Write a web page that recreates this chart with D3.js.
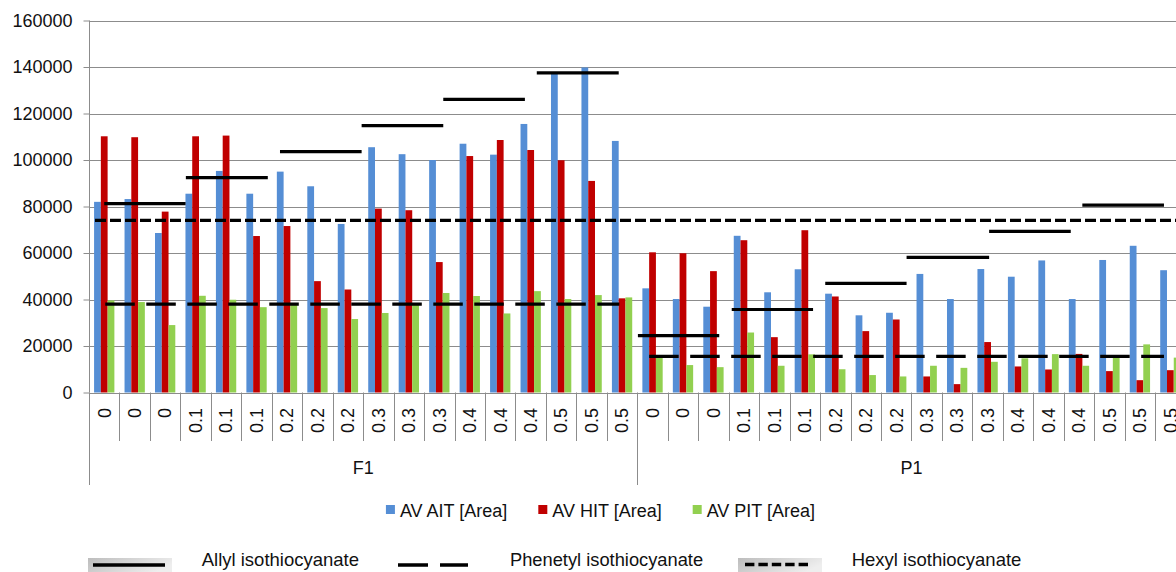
<!DOCTYPE html>
<html>
<head>
<meta charset="utf-8">
<script src="https://cdn.jsdelivr.net/npm/d3@7"></script>
<style>
  html, body { margin: 0; padding: 0; background: #fff; }
  svg { display: block; font-family: "Liberation Sans", Arial, sans-serif; }
</style>
</head>
<body>
<svg id="chart" width="1176" height="572"></svg>
<script>
// ---------------- data ----------------
const groups = ["F1", "P1"];
const concLabels = ["0","0","0","0.1","0.1","0.1","0.2","0.2","0.2","0.3","0.3","0.3","0.4","0.4","0.4","0.5","0.5","0.5"];
const seriesNames = ["AV AIT [Area]", "AV HIT [Area]", "AV PIT [Area]"];

const aitF1 = [82000, 83200, 68600, 85500, 95300, 85500, 95000, 88700, 72500, 105500, 102500, 100000, 107000, 102300, 115500, 137500, 139800, 108200];
const aitP1 = [44800, 40200, 36900, 67400, 43100, 53000, 42500, 33200, 34300, 51000, 40200, 53100, 49800, 56800, 40200, 57000, 63100, 52600];
const hitF1 = [110200, 109800, 77800, 110200, 110500, 67300, 71600, 47900, 44300, 79100, 78400, 56100, 101700, 108600, 104300, 99900, 91000, 40500];
const hitP1 = [60300, 59900, 52200, 65500, 23800, 69800, 41300, 26400, 31400, 6900, 3600, 21700, 11200, 9900, 16600, 9200, 5300, 9600];
const pitF1 = [39600, 38900, 29000, 41600, 39900, 36700, 37800, 36300, 31600, 34200, 38000, 42800, 41500, 34000, 43600, 40200, 41900, 40900];
const pitP1 = [15000, 11800, 10900, 25800, 11500, 16400, 10000, 7500, 6900, 11500, 10600, 13200, 14700, 16500, 11500, 15000, 20700, 15000];

const yTicks = [0, 20000, 40000, 60000, 80000, 100000, 120000, 140000, 160000];

// reference lines (x in category units, value on y scale)
const allylFrom   = [0.50, 3.18, 6.27, 8.95, 11.63, 14.70, 18.02, 21.10, 24.17, 26.84, 29.55, 32.61];
const allylTo     = [3.17, 5.87, 8.95, 11.63, 14.31, 17.39, 20.69, 23.77, 26.84, 29.55, 32.23, 35.29];
const allylValues = [81200, 92400, 103600, 114800, 126100, 137500, 24500, 35700, 46900, 58100, 69300, 80600];
const phenetylFrom   = [0.535, 18.39];
const phenetylTo     = [17.41, 35.29];
const phenetylValues = [38000, 15500];
const hexylFrom   = [0.197];
const hexylTo     = [36];
const hexylValues = [74000];

const lineLegend = ["Allyl isothiocyanate", "Phenetyl isothiocyanate", "Hexyl isothiocyanate"];

// ---------------- build ----------------
const categories = [];
groups.forEach(g => concLabels.forEach((c, i) => categories.push({group: g, label: c, key: g + "-" + i})));
const seriesValues = [aitF1.concat(aitP1), hitF1.concat(hitP1), pitF1.concat(pitP1)];
const colors = ["#558ED5", "#C00000", "#92D050"];

const svg = d3.select("#chart");
const plotLeft = 89, plotRight = 1185.6, plotTop = 20.5, plotBottom = 392.5;

const x0 = d3.scaleBand().domain(categories.map(d => d.key)).range([plotLeft, plotRight]).padding(0);
const x1 = d3.scaleBand().domain(seriesNames).range([0, x0.bandwidth()]).paddingInner(0).paddingOuter(0.75);
const xc = d3.scaleLinear().domain([0, categories.length]).range([plotLeft, plotRight]);
const y = d3.scaleLinear().domain([0, 160000]).range([plotBottom, plotTop]);

// gridlines
svg.append("g").selectAll("line").data(yTicks).join("line")
  .attr("x1", plotLeft).attr("x2", plotRight)
  .attr("y1", d => Math.round(y(d)) + 0.5).attr("y2", d => Math.round(y(d)) + 0.5)
  .attr("stroke", "#8c8c8c").attr("stroke-width", 1);

// y axis
const yAxis = svg.append("g").attr("transform", `translate(${plotLeft + 0.5},0)`)
  .call(d3.axisLeft(y).tickValues(yTicks).tickFormat(d3.format("d")).tickSize(6).tickPadding(11));
yAxis.select(".domain").remove();
yAxis.selectAll(".tick line").attr("stroke", "#8c8c8c");
yAxis.selectAll(".tick text").attr("font-size", 18).attr("fill", "#111")
  .attr("font-family", '"Liberation Sans", Arial, sans-serif');
svg.append("line").attr("x1", plotLeft + 0.5).attr("x2", plotLeft + 0.5).attr("y1", plotTop).attr("y2", plotBottom)
  .attr("stroke", "#8c8c8c");

// bars
const barG = svg.append("g");
seriesNames.forEach((s, si) => {
  barG.append("g").selectAll("rect").data(seriesValues[si]).join("rect")
    .attr("x", (d, i) => x0(categories[i].key) + x1(s))
    .attr("width", x1.bandwidth())
    .attr("y", d => y(d))
    .attr("height", d => y(0) - y(d))
    .attr("fill", colors[si]);
});

// x axis: category separators & labels
const xAxisG = svg.append("g");
d3.range(categories.length + 1).forEach(i => {
  const isGroup = i % concLabels.length === 0;
  xAxisG.append("line")
    .attr("x1", Math.round(xc(i)) + 0.5).attr("x2", Math.round(xc(i)) + 0.5)
    .attr("y1", plotBottom).attr("y2", isGroup ? 485 : 441)
    .attr("stroke", "#8c8c8c");
});
xAxisG.append("line").attr("x1", plotLeft).attr("x2", plotRight)
  .attr("y1", Math.round(plotBottom) + 0.5).attr("y2", Math.round(plotBottom) + 0.5).attr("stroke", "#8c8c8c");
xAxisG.selectAll("text.cat").data(categories).join("text")
  .attr("class", "cat")
  .attr("transform", d => `translate(${x0(d.key) + x0.bandwidth() / 2},408) rotate(-90)`)
  .attr("text-anchor", "end").attr("dy", "0.35em")
  .attr("font-size", 18).attr("fill", "#111")
  .text(d => d.label);
xAxisG.selectAll("text.grp").data(groups).join("text")
  .attr("class", "grp")
  .attr("x", (g, gi) => (xc(gi * concLabels.length) + xc((gi + 1) * concLabels.length)) / 2)
  .attr("y", 474).attr("text-anchor", "middle")
  .attr("font-size", 18).attr("fill", "#111")
  .text(g => g);

// reference lines
const lineG = svg.append("g");
function drawSegs(from, to, vals, dash) {
  lineG.append("g").selectAll("line").data(vals).join("line")
    .attr("x1", (d, i) => xc(from[i])).attr("x2", (d, i) => xc(to[i]))
    .attr("y1", d => y(d)).attr("y2", d => y(d))
    .attr("stroke", "#000").attr("stroke-width", 3.2)
    .attr("stroke-dasharray", dash);
}
drawSegs(hexylFrom, hexylTo, hexylValues, "11,4");
drawSegs(phenetylFrom, phenetylTo, phenetylValues, "29.5,11.5");
drawSegs(allylFrom, allylTo, allylValues, null);

// series legend
const legG = svg.append("g");
let lx = 0;
seriesNames.forEach((s, i) => {
  const g = legG.append("g");
  g.append("rect").attr("x", 0).attr("y", -12).attr("width", 9).attr("height", 9).attr("fill", colors[i]);
  const t = g.append("text").attr("x", 14).attr("y", 0).attr("font-size", 18).attr("fill", "#111").text(s);
  const w = 14 + t.node().getComputedTextLength();
  g.attr("transform", `translate(${lx},0)`);
  lx += w + 31;
});
const legW = lx - 31;
legG.attr("transform", `translate(${600.5 - legW / 2},517)`);

// line legend
const defs = svg.append("defs");
const grad = defs.append("linearGradient").attr("id", "boxg").attr("x1", "0").attr("x2", "1").attr("y1", "0").attr("y2", "0.4");
grad.append("stop").attr("offset", "0%").attr("stop-color", "#bdbdbd");
grad.append("stop").attr("offset", "100%").attr("stop-color", "#eeeeee");

const ll = svg.append("g");
// Allyl
ll.append("rect").attr("x", 88).attr("y", 558).attr("width", 84).attr("height", 16).attr("fill", "url(#boxg)");
ll.append("line").attr("x1", 93).attr("x2", 165).attr("y1", 565).attr("y2", 565).attr("stroke", "#000").attr("stroke-width", 3.3);
ll.append("text").attr("x", 201.7).attr("y", 566).attr("font-size", 18.5).attr("fill", "#111").text(lineLegend[0]);
// Phenetyl
ll.append("line").attr("x1", 398).attr("x2", 468).attr("y1", 565).attr("y2", 565).attr("stroke", "#000")
  .attr("stroke-width", 3.3).attr("stroke-dasharray", "30,12");
ll.append("text").attr("x", 510).attr("y", 566).attr("font-size", 18.3).attr("fill", "#111").text(lineLegend[1]);
// Hexyl
ll.append("rect").attr("x", 738).attr("y", 558).attr("width", 84).attr("height", 16).attr("fill", "url(#boxg)");
ll.append("line").attr("x1", 745).attr("x2", 808).attr("y1", 564.5).attr("y2", 564.5).attr("stroke", "#000")
  .attr("stroke-width", 3.3).attr("stroke-dasharray", "9.4,4");
ll.append("text").attr("x", 851.7).attr("y", 566).attr("font-size", 18.5).attr("fill", "#111").text(lineLegend[2]);
</script>
</body>
</html>
